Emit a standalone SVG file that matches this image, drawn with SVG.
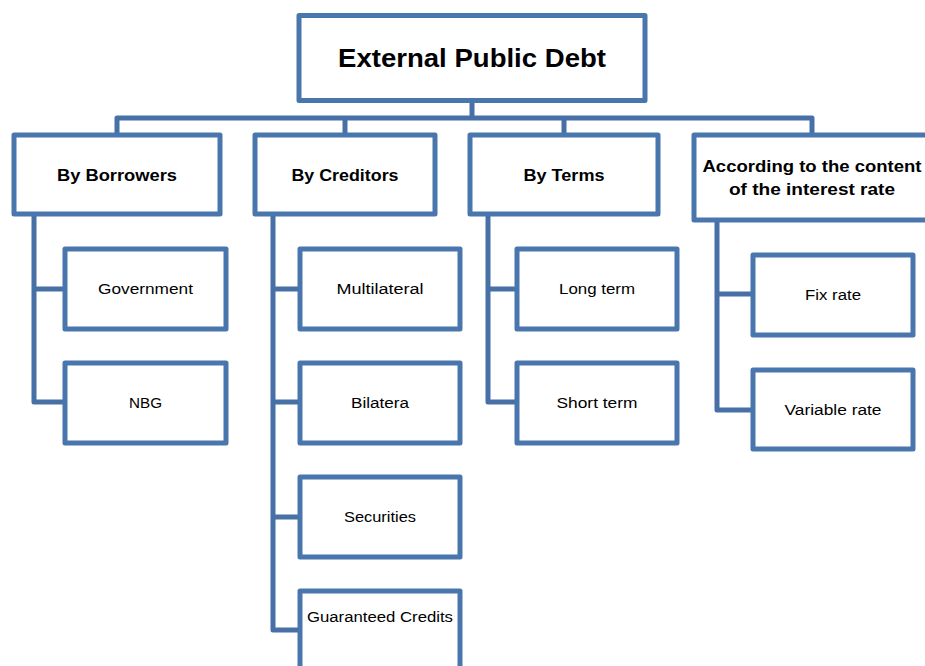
<svg xmlns="http://www.w3.org/2000/svg" width="925" height="666" viewBox="0 0 925 666">
<style>
.box{fill:#fff;stroke:#4A76AE;stroke-width:5;stroke-linejoin:round}
.con{fill:none;stroke:#4670A6;stroke-width:5;stroke-linejoin:round}
text{font-family:"Liberation Sans",Arial,sans-serif;fill:#000;text-anchor:middle}
.t0{font-size:26px;font-weight:bold}
.t1{font-size:17px;font-weight:bold}
.t2{font-size:15.5px}
</style>
<rect width="925" height="666" fill="#fff"/>
<g id="connectors">
<path class="con" d="M472,102V118M117,135V118H812V135M345,118V135M564,118V135"/>
<path class="con" d="M65,289H34V402H65M34,216V289"/>
<path class="con" d="M273,216V630H300M273,289H300M273,402H300M273,517H300"/>
<path class="con" d="M488,216V402H517M488,289H517"/>
<path class="con" d="M717,222V410H753M717,294H753"/>
</g>
<g id="root"><rect class="box" x="299" y="15.5" width="346" height="85"/><text class="t0" x="472" y="67" textLength="268" lengthAdjust="spacingAndGlyphs">External Public Debt</text></g>
<g id="borrowers"><rect class="box" x="14" y="135" width="206" height="79"/><text class="t1" x="117" y="181" textLength="120" lengthAdjust="spacingAndGlyphs">By Borrowers</text></g>
<g id="creditors"><rect class="box" x="255" y="135" width="180" height="79"/><text class="t1" x="345" y="181" textLength="107" lengthAdjust="spacingAndGlyphs">By Creditors</text></g>
<g id="terms"><rect class="box" x="470" y="135" width="188" height="79"/><text class="t1" x="564" y="181" textLength="81" lengthAdjust="spacingAndGlyphs">By Terms</text></g>
<g id="interest"><rect class="box" x="694" y="135" width="240" height="85"/><text class="t1" x="812" y="172" textLength="219" lengthAdjust="spacingAndGlyphs">According to the content</text><text class="t1" x="812" y="195" textLength="166" lengthAdjust="spacingAndGlyphs">of the interest rate</text></g>
<g id="government"><rect class="box" x="65" y="249" width="161" height="80"/><text class="t2" x="145.5" y="294" textLength="95" lengthAdjust="spacingAndGlyphs">Government</text></g>
<g id="nbg"><rect class="box" x="65" y="363" width="161" height="80"/><text class="t2" x="145.5" y="408" textLength="33" lengthAdjust="spacingAndGlyphs">NBG</text></g>
<g id="multilateral"><rect class="box" x="300" y="249" width="160" height="80"/><text class="t2" x="380" y="294" textLength="87" lengthAdjust="spacingAndGlyphs">Multilateral</text></g>
<g id="bilatera"><rect class="box" x="300" y="363" width="160" height="80"/><text class="t2" x="380" y="408" textLength="58" lengthAdjust="spacingAndGlyphs">Bilatera</text></g>
<g id="securities"><rect class="box" x="300" y="477" width="160" height="80"/><text class="t2" x="380" y="522" textLength="72" lengthAdjust="spacingAndGlyphs">Securities</text></g>
<g id="guaranteed"><rect class="box" x="300" y="591" width="160" height="90"/><text class="t2" x="380" y="622" textLength="146" lengthAdjust="spacingAndGlyphs">Guaranteed Credits</text></g>
<g id="longterm"><rect class="box" x="517" y="249" width="160" height="80"/><text class="t2" x="597" y="294" textLength="76" lengthAdjust="spacingAndGlyphs">Long term</text></g>
<g id="shortterm"><rect class="box" x="517" y="363" width="160" height="80"/><text class="t2" x="597" y="408" textLength="81" lengthAdjust="spacingAndGlyphs">Short term</text></g>
<g id="fixrate"><rect class="box" x="753" y="255" width="160" height="80"/><text class="t2" x="833" y="300" textLength="56" lengthAdjust="spacingAndGlyphs">Fix rate</text></g>
<g id="variablerate"><rect class="box" x="753" y="370" width="160" height="79"/><text class="t2" x="833" y="415" textLength="97" lengthAdjust="spacingAndGlyphs">Variable rate</text></g>
</svg>
